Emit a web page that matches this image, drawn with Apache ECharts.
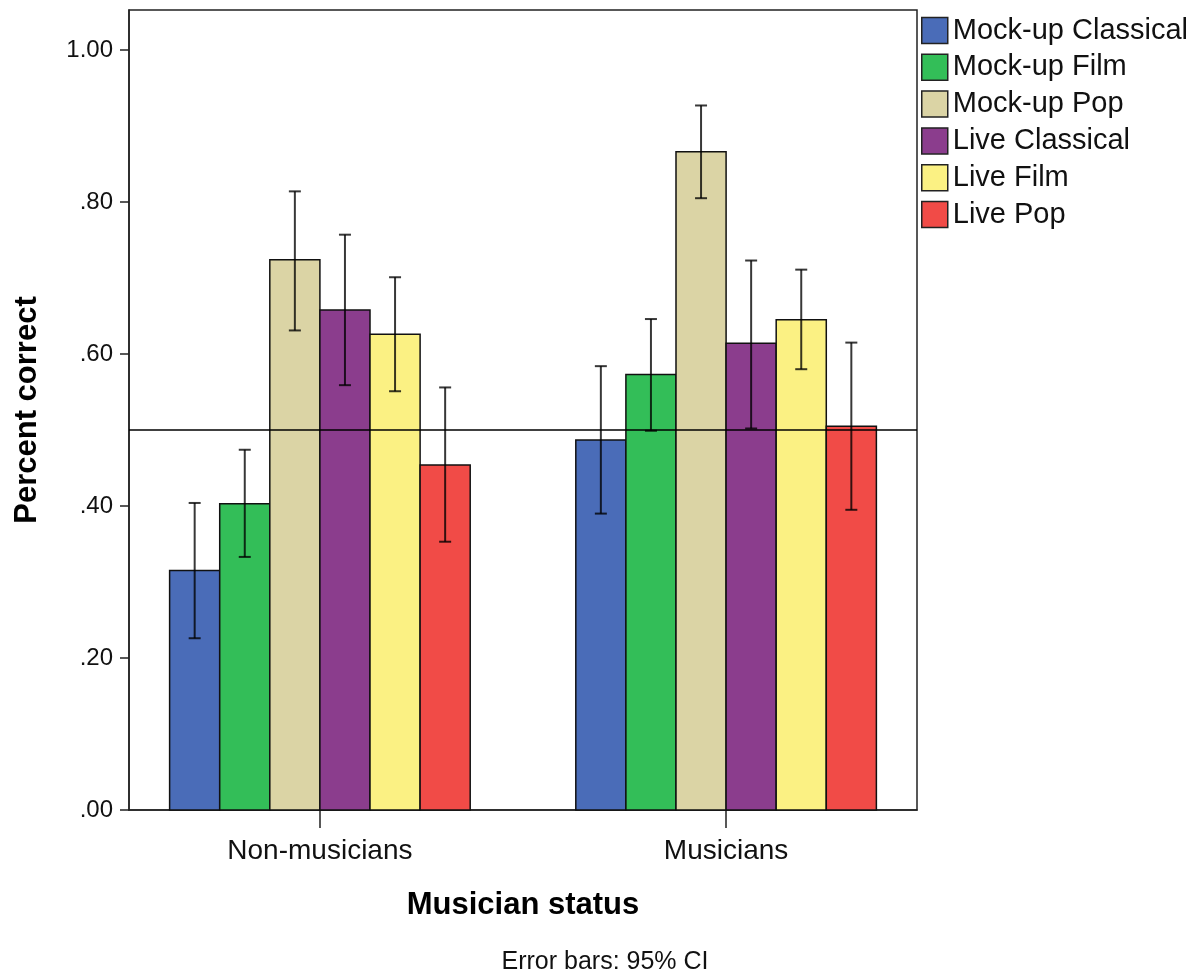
<!DOCTYPE html>
<html>
<head>
<meta charset="utf-8">
<script src="https://cdn.jsdelivr.net/npm/echarts@6/dist/echarts.min.js"></script>
<style>
  html, body { margin: 0; padding: 0; background: #fff; }
  #chart { width: 1204px; height: 978px; }
</style>
</head>
<body>
<div id="chart"></div>
<script>
// Groups on the x axis and the six conditions drawn in each group
const categories = ['Non-musicians', 'Musicians'];
const conditions = ['Mock-up Classical', 'Mock-up Film', 'Mock-up Pop', 'Live Classical', 'Live Film', 'Live Pop'];

// Mean proportion correct per condition, with 95% CI bounds
const meansNonMusicians = [0.315, 0.403, 0.724, 0.658, 0.626, 0.454];
const lowerNonMusicians = [0.226, 0.333, 0.631, 0.559, 0.551, 0.353];
const upperNonMusicians = [0.404, 0.474, 0.814, 0.757, 0.701, 0.556];

const meansMusicians = [0.487, 0.573, 0.866, 0.614, 0.645, 0.505];
const lowerMusicians = [0.390, 0.499, 0.805, 0.502, 0.580, 0.395];
const upperMusicians = [0.584, 0.646, 0.927, 0.723, 0.711, 0.615];

// Chance level
const chanceLevel = 0.5;

// Y axis tick labels
const yTicks = [0, 0.2, 0.4, 0.6, 0.8, 1.0];

const colors = ['#4A6CB8', '#33BE58', '#DBD4A5', '#8B3D8D', '#FBF183', '#F14B47'];
const FONT = "'Liberation Sans', Arial, sans-serif";
const GROUP_FRACTION = 0.74;   // share of one category step covered by a group of bars

const byCategory = [
  { means: meansNonMusicians, lower: lowerNonMusicians, upper: upperNonMusicians },
  { means: meansMusicians, lower: lowerMusicians, upper: upperMusicians }
];

function makeRenderer(k) {
  return function (params, api) {
    const cat = api.value(0);
    const mean = api.value(1);
    const lo = api.value(2);
    const hi = api.value(3);
    const step = api.size([1, 0])[0];
    const w = step * GROUP_FRACTION / conditions.length;
    const base = api.coord([cat, 0]);
    const top = api.coord([cat, mean]);
    const cx = base[0] + (k - (conditions.length - 1) / 2) * w;
    const yLo = api.coord([cat, lo])[1];
    const yHi = api.coord([cat, hi])[1];
    const cap = 6;
    const errStyle = { stroke: 'rgba(0,0,0,0.78)', lineWidth: 2 };
    return {
      type: 'group',
      children: [
        {
          type: 'rect',
          shape: { x: cx - w / 2, y: top[1], width: w, height: base[1] - top[1] },
          style: { fill: colors[k], stroke: '#111', lineWidth: 1.5 },
          z2: 1
        },
        { type: 'line', shape: { x1: cx, y1: yHi, x2: cx, y2: yLo }, style: errStyle, z2: 5 },
        { type: 'line', shape: { x1: cx - cap, y1: yHi, x2: cx + cap, y2: yHi }, style: errStyle, z2: 5 },
        { type: 'line', shape: { x1: cx - cap, y1: yLo, x2: cx + cap, y2: yLo }, style: errStyle, z2: 5 }
      ]
    };
  };
}

const series = conditions.map(function (name, k) {
  return {
    name: name,
    type: 'custom',
    renderItem: makeRenderer(k),
    itemStyle: { color: colors[k] },
    encode: { x: 0, y: 1 },
    data: byCategory.map(function (g, c) {
      return [c, g.means[k], g.lower[k], g.upper[k]];
    }),
    z: 2
  };
});

// Chance reference line drawn across the whole plot
series.push({
  name: 'chance',
  type: 'line',
  data: [],
  silent: true,
  z: 3,
  markLine: {
    silent: true,
    symbol: 'none',
    label: { show: false },
    lineStyle: { color: '#000', width: 1.5, type: 'solid' },
    data: [{ yAxis: chanceLevel }]
  }
});

const chart = echarts.init(document.getElementById('chart'), null, { renderer: 'canvas' });
chart.setOption({
  animation: false,
  backgroundColor: '#fff',
  grid: {
    left: 129, right: 287, top: 10, bottom: 168,
    show: true, borderColor: '#222', borderWidth: 1.5
  },
  legend: {
    orient: 'vertical',
    left: 921,
    top: 16,
    padding: 0,
    icon: 'rect',
    itemWidth: 26,
    itemHeight: 26,
    itemGap: 7.8,
    textStyle: { fontFamily: FONT, fontSize: 29, lineHeight: 26, color: '#111' },
    data: conditions.map(function (name, k) {
      return { name: name, itemStyle: { color: colors[k], borderColor: '#222', borderWidth: 1.5 } };
    })
  },
  xAxis: {
    type: 'value',
    min: -0.47,
    max: 1.47,
    name: 'Musician status',
    nameLocation: 'middle',
    nameGap: 80,
    nameTextStyle: { fontFamily: FONT, fontSize: 31, fontWeight: 'bold', color: '#000' },
    splitLine: { show: false },
    axisLine: { show: true, onZero: false, lineStyle: { color: '#222', width: 1.5 } },
    axisTick: { show: true, length: 18, customValues: [0, 1], lineStyle: { color: '#222', width: 1.5 } },
    axisLabel: {
      customValues: [0, 1],
      margin: 27,
      fontFamily: FONT,
      fontSize: 28,
      color: '#111',
      formatter: function (v) { return categories[Math.round(v)]; }
    }
  },
  yAxis: {
    type: 'value',
    min: 0,
    max: 800 / 760,
    name: 'Percent correct',
    nameLocation: 'middle',
    nameGap: 86,
    nameTextStyle: { fontFamily: FONT, fontSize: 31, fontWeight: 'bold', color: '#000' },
    splitLine: { show: false },
    axisLine: { show: true, onZero: false, lineStyle: { color: '#222', width: 1.5 } },
    axisTick: { show: true, length: 9, customValues: yTicks, lineStyle: { color: '#222', width: 1.5 } },
    axisLabel: {
      customValues: yTicks,
      margin: 16,
      fontFamily: FONT,
      fontSize: 24,
      color: '#111',
      formatter: function (v) { return v.toFixed(2).replace(/^0/, ''); }
    }
  },
  graphic: [{
    type: 'text',
    x: 605,
    y: 962,
    style: {
      text: 'Error bars: 95% CI',
      fontFamily: FONT,
      fontSize: 25,
      fill: '#111',
      align: 'center',
      verticalAlign: 'middle'
    }
  }],
  series: series
});
</script>
</body>
</html>
